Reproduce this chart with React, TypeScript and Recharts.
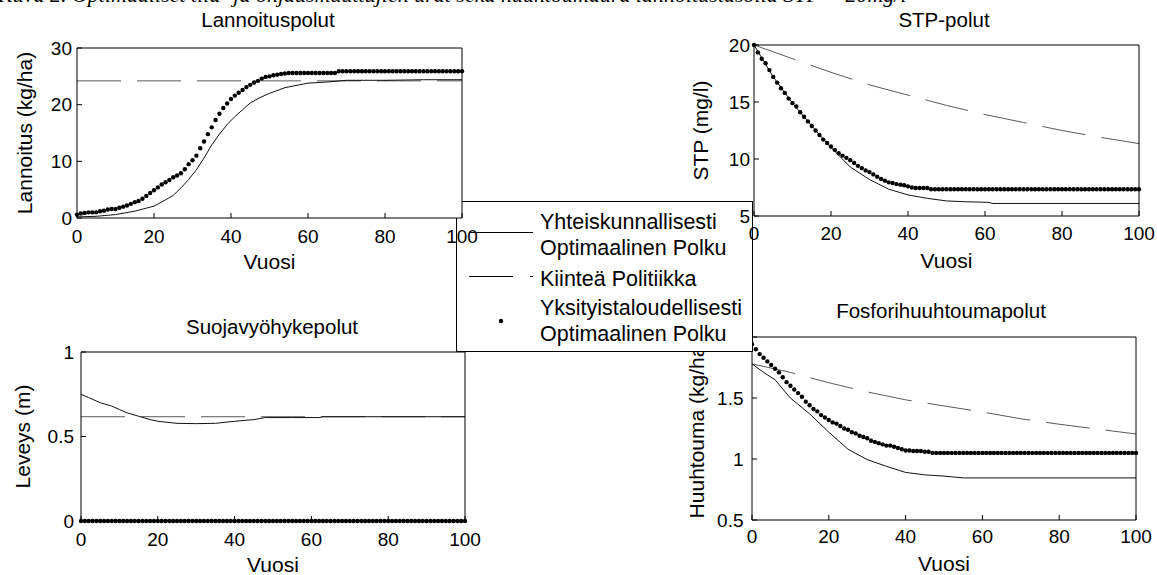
import React from "react";
import { ComposedChart, Line, XAxis, YAxis, ReferenceArea } from "recharts";

const FONT = '"Liberation Sans", Arial, sans-serif';

// vuodet 0..100
const YEARS = [
  0, 1, 2, 3, 4, 5, 6, 7, 8, 9,
  10, 11, 12, 13, 14, 15, 16, 17, 18, 19,
  20, 21, 22, 23, 24, 25, 26, 27, 28, 29,
  30, 31, 32, 33, 34, 35, 36, 37, 38, 39,
  40, 41, 42, 43, 44, 45, 46, 47, 48, 49,
  50, 51, 52, 53, 54, 55, 56, 57, 58, 59,
  60, 61, 62, 63, 64, 65, 66, 67, 68, 69,
  70, 71, 72, 73, 74, 75, 76, 77, 78, 79,
  80, 81, 82, 83, 84, 85, 86, 87, 88, 89,
  90, 91, 92, 93, 94, 95, 96, 97, 98, 99,
  100,
];
const X_TICKS = [0, 20, 40, 60, 80, 100];

// Lannoituspolut
const LAN_PRIV = [
  0.6, 0.8, 0.9, 1.0, 1.0, 1.0, 1.2, 1.3, 1.5, 1.6,
  1.6, 1.8, 2.0, 2.2, 2.5, 2.8, 3.0, 3.4, 3.9, 4.4,
  4.9, 5.4, 5.9, 6.3, 6.7, 7.2, 7.5, 7.9, 8.6, 9.5,
  10.2, 11.0, 12.3, 13.5, 14.8, 16.0, 17.3, 18.4, 19.4, 20.2,
  21.0, 21.6, 22.1, 22.6, 23.1, 23.5, 23.9, 24.2, 24.6, 24.9,
  25.0, 25.2, 25.3, 25.4, 25.5, 25.6, 25.6, 25.6, 25.6, 25.6,
  25.6, 25.6, 25.6, 25.6, 25.6, 25.6, 25.6, 25.6, 25.9, 25.9,
  25.9, 25.9, 25.9, 25.9, 25.9, 25.9, 25.9, 25.9, 25.9, 25.9,
  25.9, 25.9, 25.9, 25.9, 25.9, 25.9, 25.9, 25.9, 25.9, 25.9,
  25.9, 25.9, 25.9, 25.9, 25.9, 25.9, 25.9, 25.9, 25.9, 25.9,
  25.9,
];
const LAN_SOC_X = [0, 5, 10, 15, 20, 23, 25, 27, 29, 31, 33, 35, 37, 39, 41, 43, 45, 48, 50, 54, 60, 65, 70, 80, 90, 100];
const LAN_SOC = [0.2, 0.3, 0.6, 1.2, 2.1, 3.2, 4.0, 5.3, 6.8, 8.5, 10.6, 12.9, 14.8, 16.5, 17.9, 19.1, 20.3, 21.4, 22.0, 23.0, 23.8, 24.0, 24.3, 24.3, 24.4, 24.4];
const LAN_FIX_X = [0, 100];
const LAN_FIX = [24.2, 24.2];
const LAN_TICKS = [0, 10, 20, 30];

// STP-polut
const STP_PRIV = [
  20.0, 19.35, 18.8, 18.4, 17.8, 17.2, 16.7, 16.2, 15.8, 15.3,
  14.9, 14.6, 14.1, 13.7, 13.3, 12.9, 12.5, 12.1, 11.7, 11.4,
  11.1, 10.8, 10.5, 10.3, 10.1, 9.9, 9.65, 9.4, 9.2, 9.0,
  8.85, 8.65, 8.45, 8.25, 8.1, 7.95, 7.9, 7.8, 7.75, 7.7,
  7.6, 7.5, 7.45, 7.45, 7.45, 7.45, 7.35, 7.35, 7.35, 7.35,
  7.35, 7.35, 7.35, 7.35, 7.35, 7.35, 7.35, 7.35, 7.35, 7.35,
  7.35, 7.35, 7.35, 7.35, 7.35, 7.35, 7.35, 7.35, 7.35, 7.35,
  7.35, 7.35, 7.35, 7.35, 7.35, 7.35, 7.35, 7.35, 7.35, 7.35,
  7.35, 7.35, 7.35, 7.35, 7.35, 7.35, 7.35, 7.35, 7.35, 7.35,
  7.35, 7.35, 7.35, 7.35, 7.35, 7.35, 7.35, 7.35, 7.35, 7.35,
  7.35,
];
const STP_SOC_X = [0, 5, 10, 15, 20, 25, 30, 35, 40, 45, 50, 55, 61, 62, 100];
const STP_SOC = [20, 17.2, 14.9, 12.9, 11.0, 9.3, 8.2, 7.35, 6.85, 6.55, 6.32, 6.25, 6.2, 6.1, 6.1];
const STP_FIX_X = [0, 10, 20, 30, 40, 50, 60, 70, 80, 90, 100];
const STP_FIX = [20, 18.8, 17.6, 16.5, 15.6, 14.7, 13.9, 13.2, 12.5, 11.9, 11.35];
const STP_TICKS = [5, 10, 15, 20];

// Suojavyöhykepolut
const BUF_PRIV = [
  0, 0, 0, 0, 0, 0, 0, 0, 0, 0,
  0, 0, 0, 0, 0, 0, 0, 0, 0, 0,
  0, 0, 0, 0, 0, 0, 0, 0, 0, 0,
  0, 0, 0, 0, 0, 0, 0, 0, 0, 0,
  0, 0, 0, 0, 0, 0, 0, 0, 0, 0,
  0, 0, 0, 0, 0, 0, 0, 0, 0, 0,
  0, 0, 0, 0, 0, 0, 0, 0, 0, 0,
  0, 0, 0, 0, 0, 0, 0, 0, 0, 0,
  0, 0, 0, 0, 0, 0, 0, 0, 0, 0,
  0, 0, 0, 0, 0, 0, 0, 0, 0, 0,
  0,
];
const BUF_SOC_X = [0, 2, 5, 8, 10, 12, 15, 18, 20, 25, 30, 35, 40, 45, 48, 55, 62, 63, 100];
const BUF_SOC = [0.75, 0.73, 0.7, 0.68, 0.66, 0.64, 0.62, 0.6, 0.59, 0.578, 0.576, 0.578, 0.59, 0.6, 0.612, 0.612, 0.612, 0.617, 0.617];
const BUF_FIX_X = [0, 100];
const BUF_FIX = [0.617, 0.617];
const BUF_TICKS = [0, 0.5, 1];

// Fosforihuuhtoumapolut
const P_PRIV = [
  1.94, 1.9, 1.86, 1.83, 1.8, 1.77, 1.74, 1.71, 1.67, 1.63,
  1.6, 1.57, 1.54, 1.51, 1.47, 1.44, 1.41, 1.39, 1.36, 1.34,
  1.32, 1.3, 1.29, 1.27, 1.25, 1.24, 1.22, 1.21, 1.19, 1.18,
  1.17, 1.15, 1.14, 1.13, 1.12, 1.11, 1.11, 1.1, 1.09, 1.08,
  1.07, 1.07, 1.065, 1.065, 1.065, 1.06, 1.06, 1.05, 1.05, 1.05,
  1.05, 1.05, 1.05, 1.05, 1.05, 1.05, 1.05, 1.05, 1.05, 1.05,
  1.05, 1.05, 1.05, 1.05, 1.05, 1.05, 1.05, 1.05, 1.05, 1.05,
  1.05, 1.05, 1.05, 1.05, 1.05, 1.05, 1.05, 1.05, 1.05, 1.05,
  1.05, 1.05, 1.05, 1.05, 1.05, 1.05, 1.05, 1.05, 1.05, 1.05,
  1.05, 1.05, 1.05, 1.05, 1.05, 1.05, 1.05, 1.05, 1.05, 1.05,
  1.05,
];
const P_SOC_X = [0, 3, 6, 10, 15, 20, 25, 30, 35, 40, 45, 50, 55, 100];
const P_SOC = [1.78, 1.71, 1.65, 1.5, 1.37, 1.22, 1.08, 0.995, 0.94, 0.89, 0.87, 0.86, 0.845, 0.845];
const P_FIX_X = [0, 10, 20, 30, 40, 50, 60, 70, 80, 90, 100];
const P_FIX = [1.78, 1.71, 1.625, 1.55, 1.485, 1.435, 1.385, 1.33, 1.285, 1.245, 1.205];
const P_TICKS = [0.5, 1, 1.5, 2];

function buildRows(priv: number[], socX: number[], soc: number[], fixX: number[], fix: number[]) {
  return YEARS.map((year, i) => {
    const si = socX.indexOf(year);
    const fi = fixX.indexOf(year);
    return {
      year,
      priv: priv[i],
      soc: si >= 0 ? soc[si] : null,
      fix: fi >= 0 ? fix[fi] : null,
    };
  });
}

const tickStyle = { fontSize: 19, fill: "#000", fontFamily: FONT };

function Panel(props: any) {
  const {
    left, top, width, height, marginTop, marginRight, yWidth, xHeight,
    yTicks, yLabel, xTickMargin, yTickMargin, xLabelOffset, yLabelOffset, rows, z,
  } = props;
  const domain = [yTicks[0], yTicks[yTicks.length - 1]];
  return (
    <div style={{ position: "absolute", left, top, width, height, zIndex: z }}>
      <ComposedChart
        width={width}
        height={height}
        data={rows}
        margin={{ top: marginTop - 1, right: marginRight - 1, left: 0, bottom: 0 }}
        style={{ fontFamily: FONT }}
      >
        <ReferenceArea x1={0} x2={100} y1={domain[0]} y2={domain[1]} fill="#fff" fillOpacity={1} stroke="none" ifOverflow="visible" />
        <XAxis
          dataKey="year"
          type="number"
          domain={[0, 100]}
          ticks={X_TICKS}
          interval={0}
          height={xHeight}
          stroke="#000"
          tickSize={-5}
          tickMargin={xTickMargin}
          tick={tickStyle}
          label={{ value: "Vuosi", position: "insideBottom", offset: xLabelOffset, fill: "#000", style: { fontSize: 21, fontFamily: FONT } }}
        />
        <XAxis xAxisId="top" orientation="top" dataKey="year" type="number" domain={[0, 100]} ticks={X_TICKS} interval={0} height={1} stroke="#000" tickSize={-5} tick={false} />
        <YAxis
          type="number"
          domain={domain}
          ticks={yTicks}
          interval={0}
          width={yWidth}
          stroke="#000"
          tickSize={-5}
          tickMargin={yTickMargin}
          tick={tickStyle}
          label={{ value: yLabel, angle: -90, position: "insideLeft", offset: yLabelOffset, fill: "#000", style: { fontSize: 21, fontFamily: FONT, textAnchor: "middle" } }}
        />
        <YAxis yAxisId="right" orientation="right" type="number" domain={domain} ticks={yTicks} interval={0} width={1} stroke="#000" tickSize={-5} tick={false} allowDataOverflow />
        <Line dataKey="fix" stroke="#5a5a5a" strokeWidth={1} strokeDasharray="44 16" dot={false} activeDot={false} connectNulls isAnimationActive={false} />
        <Line dataKey="soc" stroke="#111" strokeWidth={1} dot={false} activeDot={false} connectNulls isAnimationActive={false} />
        <Line dataKey="priv" stroke="none" dot={{ r: 2.2, fill: "#000", stroke: "none" }} activeDot={false} isAnimationActive={false} />
      </ComposedChart>
    </div>
  );
}

function LegendBox() {
  return (
    <div style={{ position: "absolute", left: 456, top: 201, width: 297, height: 151, zIndex: 2 }}>
      <svg width={297} height={151} style={{ display: "block" }}>
        <rect x={0.5} y={0.5} width={296} height={150} fill="#fff" stroke="#000" strokeWidth={1} />
        <g fontFamily={FONT} fontSize={21.5} fill="#000">
          <line x1={13} x2={77} y1={31.5} y2={31.5} stroke="#000" strokeWidth={1} />
          <text x={84} y={27.5}>Yhteiskunnallisesti</text>
          <text x={84} y={53.5}>Optimaalinen Polku</text>
          <line x1={13} x2={77} y1={75.5} y2={75.5} stroke="#000" strokeWidth={1} strokeDasharray="44 17" />
          <text x={84} y={85}>Kiinteä Politiikka</text>
          <circle cx={45} cy={120} r={2.2} fill="#000" />
          <text x={84} y={113.5}>Yksityistaloudellisesti</text>
          <text x={84} y={140}>Optimaalinen Polku</text>
        </g>
      </svg>
    </div>
  );
}

export default function App() {
  const lanRows = buildRows(LAN_PRIV, LAN_SOC_X, LAN_SOC, LAN_FIX_X, LAN_FIX);
  const stpRows = buildRows(STP_PRIV, STP_SOC_X, STP_SOC, STP_FIX_X, STP_FIX);
  const bufRows = buildRows(BUF_PRIV, BUF_SOC_X, BUF_SOC, BUF_FIX_X, BUF_FIX);
  const pRows = buildRows(P_PRIV, P_SOC_X, P_SOC, P_FIX_X, P_FIX);

  return (
    <div style={{ position: "absolute", left: 0, top: 0, width: 1157, height: 575, overflow: "hidden", background: "#fff" }}>
      <Panel
        left={676} top={315} width={481} height={260} marginTop={22} marginRight={21}
        yWidth={76} xHeight={55} yTicks={P_TICKS} yLabel="Huuhtouma (kg/ha)"
        xTickMargin={15} yTickMargin={13.5} xLabelOffset={4} yLabelOffset={21} rows={pRows} z={1}
      />
      <LegendBox />
      <Panel
        left={0} top={28} width={482} height={260} marginTop={20} marginRight={20}
        yWidth={77} xHeight={70} yTicks={LAN_TICKS} yLabel="Lannoitus (kg/ha)"
        xTickMargin={16.5} yTickMargin={10} xLabelOffset={19} yLabelOffset={25} rows={lanRows} z={3}
      />
      <Panel
        left={680} top={25} width={477} height={263} marginTop={20} marginRight={18}
        yWidth={74} xHeight={72} yTicks={STP_TICKS} yLabel="STP (mg/l)"
        xTickMargin={15.5} yTickMargin={9} xLabelOffset={20} yLabelOffset={20.5} rows={stpRows} z={3}
      />
      <Panel
        left={0} top={330} width={485} height={245} marginTop={22} marginRight={20}
        yWidth={81} xHeight={54} yTicks={BUF_TICKS} yLabel="Leveys (m)"
        xTickMargin={17} yTickMargin={12} xLabelOffset={3} yLabelOffset={22.5} rows={bufRows} z={3}
      />
      <svg width={1157} height={575} style={{ position: "absolute", left: 0, top: 0, zIndex: 4, pointerEvents: "none" }}>
        <text x={-2} y={2} fontFamily='"Liberation Serif", "Times New Roman", serif' fontStyle="italic" fontSize={22} fill="#000">
          Kuva 2. Optimaaliset tila- ja ohjausmuuttujien urat sekä huuhtoumaura lannoitustasolla STP = 20mg/l
        </text>
        <g fontFamily={FONT} fontSize={20.5} fill="#000" textAnchor="middle">
          <text x={268} y={27}>Lannoituspolut</text>
          <text x={944} y={27}>STP-polut</text>
          <text x={272} y={334}>Suojavyöhykepolut</text>
          <text x={941} y={318}>Fosforihuuhtoumapolut</text>
        </g>
      </svg>
    </div>
  );
}
